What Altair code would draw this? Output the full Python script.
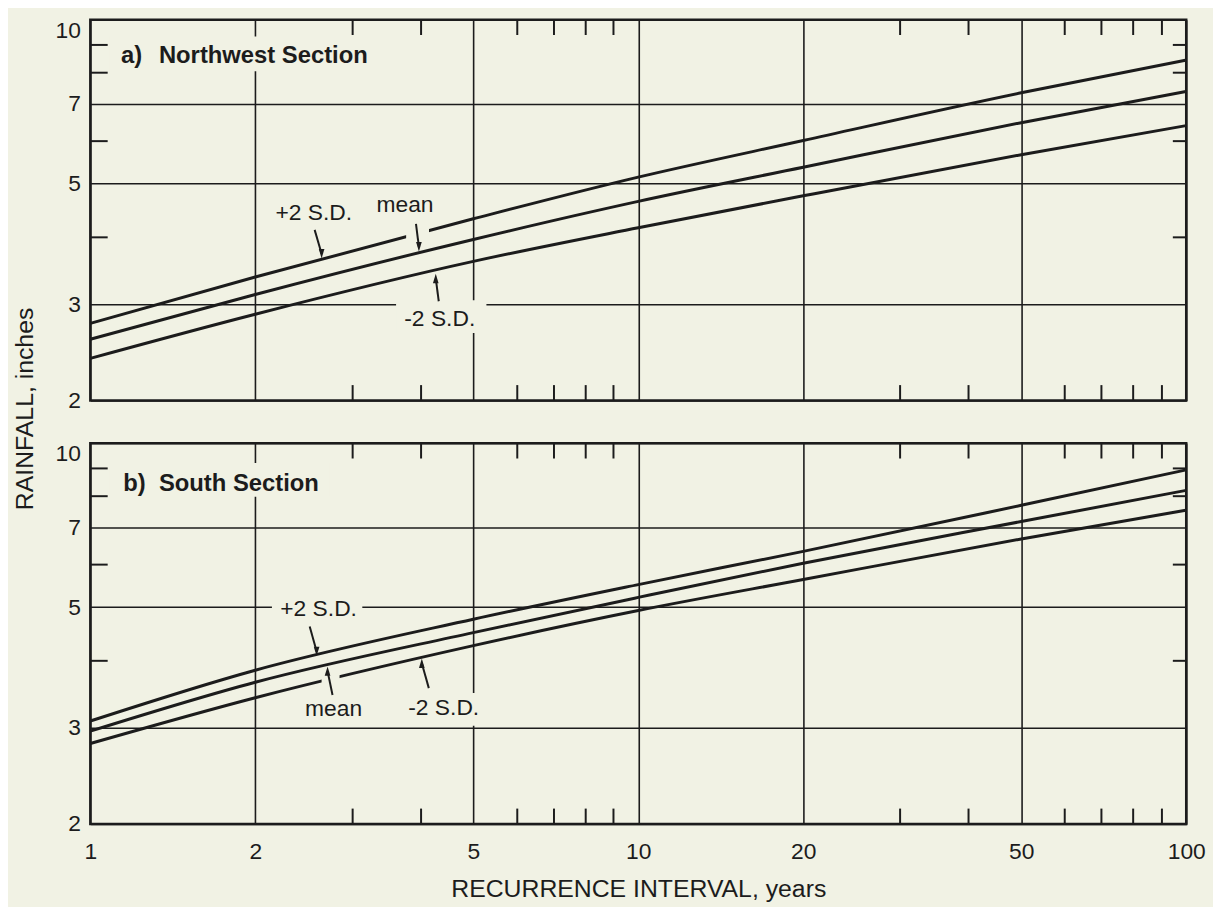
import altair as alt
import pandas as pd

INK = "#1c1c1c"
BG = "#f1f2e4"
FONT = "Liberation Sans"

# ---------------- data ----------------
recurrence = [1, 2, 5, 10, 20, 50, 100]
series_names = ["+2 S.D.", "mean", "-2 S.D."]

nw_plus2sd = [2.77, 3.37, 4.31, 5.14, 6.00, 7.34, 8.43]
nw_mean = [2.59, 3.13, 3.95, 4.64, 5.36, 6.47, 7.38]
nw_minus2sd = [2.39, 2.88, 3.60, 4.15, 4.75, 5.65, 6.39]

s_plus2sd = [3.09, 3.83, 4.75, 5.50, 6.33, 7.69, 8.93]
s_mean = [2.96, 3.64, 4.49, 5.21, 6.02, 7.18, 8.19]
s_minus2sd = [2.81, 3.41, 4.25, 4.93, 5.62, 6.67, 7.53]

x_major = [1, 2, 5, 10, 20, 50, 100]
x_minor = [3, 4, 6, 7, 8, 9, 30, 40, 60, 70, 80, 90]
y_major = [2, 3, 5, 7, 10]
y_minor = [4, 6, 8, 9]

# annotation labels (data coordinates, baseline of text)
ann_text = ["+2 S.D.", "mean", "-2 S.D."]
nw_ann_x = [2.557, 3.752, 4.342]
nw_ann_y = [4.289, 4.436, 2.739]
s_ann_x = [2.61, 2.779, 4.415]
s_ann_y = [4.825, 3.159, 3.172]

# arrows (tail -> head)
nw_arrow_x0 = [2.567, 3.929, 4.324]
nw_arrow_y0 = [4.113, 4.217, 3.042]
nw_arrow_x1 = [2.643, 3.978, 4.270]
nw_arrow_y1 = [3.719, 3.831, 3.349]
nw_arrow_dir = ["down", "down", "up"]
s_arrow_x0 = [2.514, 2.767, 4.147]
s_arrow_y0 = [4.606, 3.449, 3.551]
s_arrow_x1 = [2.588, 2.710, 4.027]
s_arrow_y1 = [4.148, 3.815, 3.944]
s_arrow_dir = ["down", "up", "up"]

# blank-out boxes (behind labels, breaks in lines)
nw_mask_x0 = [1.082, 3.77, 3.614]
nw_mask_x1 = [3.256, 4.15, 5.283]
nw_mask_y0 = [8.04, 3.90, 2.66]
nw_mask_y1 = [9.31, 4.25, 3.054]
s_mask_x0 = [1.082, 2.145, 2.643, 3.66]
s_mask_x1 = [2.733, 3.136, 2.85, 5.327]
s_mask_y0 = [7.975, 4.722, 3.55, 3.029]
s_mask_y1 = [9.196, 5.178, 3.77, 3.477]

# panel titles
nw_title = ["a)", "Northwest Section"]
s_title = ["b)", "South Section"]
nw_title_x = [1.138, 1.334]
s_title_x = [1.148, 1.334]
nw_title_y = [8.316, 8.316]
s_title_y = [8.178, 8.178]

W, H = 1105, 384
ARROW_DOWN = "M-0.6,-1L0.6,-1L0,1Z"
ARROW_UP = "M-0.6,1L0.6,1L0,-1Z"


def panel(plus, mean, minus, ax, ay, arx0, ary0, arx1, ary1, ardir,
          mx0, mx1, my0, my1, ttext, tx, ty, bottom_panel):
    df = pd.DataFrame({
        "x": recurrence * 3,
        "y": plus + mean + minus,
        "series": [s for s in series_names for _ in recurrence],
    })
    xs = alt.Scale(type="log", domain=[1, 100], nice=False)
    ys = alt.Scale(type="log", domain=[2, 10], nice=False)

    # ---- main axes (grid + labels) on an invisible layer ----
    x_axis_kw = dict(values=x_major, grid=True, gridColor=INK, gridWidth=1.6,
                     gridOpacity=1, ticks=False, domain=False, format="d",
                     labelOverlap=False, labelFlush=False)
    if bottom_panel:
        x_axis_kw.update(labels=True, labelFontSize=23, labelFont=FONT,
                         labelColor=INK, labelPadding=17,
                         title="RECURRENCE INTERVAL, years", titleFontSize=25,
                         titleFont=FONT, titleFontWeight="normal",
                         titleColor=INK, titlePadding=13)
    else:
        x_axis_kw.update(labels=False, title=None)

    y_axis_kw = dict(values=y_major, grid=True, gridColor=INK, gridWidth=1.6,
                     gridOpacity=1, ticks=False, domain=False, format="d",
                     labelOverlap=False, labelFlush=False, labelFontSize=23,
                     labelFont=FONT, labelColor=INK, labelPadding=10,
                     labelBaseline={"condition": {"test": "datum.value == 10", "value": "top"},
                                    "value": "middle"})
    if not bottom_panel:
        y_axis_kw.update(title="RAINFALL, inches", titleFontSize=25,
                         titleFont=FONT, titleFontWeight="normal",
                         titleColor=INK, titleX=-58, titleY=392,
                         titleAngle=270, titleAlign="center",
                         titleBaseline="alphabetic")
    else:
        y_axis_kw.update(title=None)

    main_axes = alt.Chart(df).mark_point(opacity=0).encode(
        x=alt.X("x:Q", scale=xs, axis=alt.Axis(**x_axis_kw)),
        y=alt.Y("y:Q", scale=ys, axis=alt.Axis(**y_axis_kw)),
    )

    # ---- data marks ----
    lines = alt.Chart(df).mark_line(color=INK, strokeWidth=3, interpolate="monotone").encode(
        x=alt.X("x:Q", scale=xs, axis=None),
        y=alt.Y("y:Q", scale=ys, axis=None),
        detail="series:N",
    )

    mdf = pd.DataFrame({"x0": mx0, "x1": mx1, "y0": my0, "y1": my1})
    masks = alt.Chart(mdf).mark_rect(color=BG, opacity=1).encode(
        x=alt.X("x0:Q", scale=xs, axis=None), x2="x1:Q",
        y=alt.Y("y0:Q", scale=ys, axis=None), y2="y1:Q",
    )

    adf = pd.DataFrame({"x0": arx0, "y0": ary0, "x1": arx1, "y1": ary1, "dir": ardir})
    shafts = alt.Chart(adf).mark_rule(color=INK, strokeWidth=2).encode(
        x=alt.X("x0:Q", scale=xs, axis=None), x2="x1:Q",
        y=alt.Y("y0:Q", scale=ys, axis=None), y2="y1:Q",
    )
    heads = alt.Chart(adf).mark_point(filled=True, color=INK, opacity=1, size=90,
                                      strokeWidth=0).encode(
        x=alt.X("x1:Q", scale=xs, axis=None),
        y=alt.Y("y1:Q", scale=ys, axis=None),
        shape=alt.Shape("dir:N", scale=alt.Scale(domain=["down", "up"],
                                                  range=[ARROW_DOWN, ARROW_UP]),
                        legend=None),
    )

    tdf = pd.DataFrame({"x": ax, "y": ay, "t": ann_text})
    texts = alt.Chart(tdf).mark_text(font=FONT, fontSize=23, color=INK,
                                     align="center", baseline="alphabetic").encode(
        x=alt.X("x:Q", scale=xs, axis=None),
        y=alt.Y("y:Q", scale=ys, axis=None),
        text="t:N",
    )

    hdf = pd.DataFrame({"x": tx, "y": ty, "t": ttext})
    heading = alt.Chart(hdf).mark_text(font=FONT, fontSize=24, fontWeight="bold",
                                       color=INK, align="left",
                                       baseline="alphabetic").encode(
        x=alt.X("x:Q", scale=xs, axis=None),
        y=alt.Y("y:Q", scale=ys, axis=None),
        text="t:N",
    )

    inner = alt.layer(lines, masks, shafts, heads, texts, heading)

    # ---- inward minor ticks on all four sides ----
    tick_kw = dict(labels=False, domain=False, grid=False, title=None,
                   tickColor=INK, tickWidth=2, tickOpacity=1)
    top_right = alt.Chart(df).mark_point(opacity=0).encode(
        x=alt.X("x:Q", scale=xs, axis=alt.Axis(orient="top", values=x_minor,
                                               offset=-15, tickSize=15, **tick_kw)),
        y=alt.Y("y:Q", scale=ys, axis=alt.Axis(orient="right", values=y_minor,
                                               offset=-14, tickSize=14, **tick_kw)),
    )
    bottom_left = alt.Chart(df).mark_point(opacity=0).encode(
        x=alt.X("x:Q", scale=xs, axis=alt.Axis(orient="bottom", values=x_minor,
                                               offset=-16, tickSize=16, **tick_kw)),
        y=alt.Y("y:Q", scale=ys, axis=alt.Axis(orient="left", values=y_minor,
                                               offset=-17, tickSize=17, **tick_kw)),
    )

    return alt.layer(main_axes, inner, top_right, bottom_left).resolve_scale(
        x="independent", y="independent"
    ).resolve_axis(x="independent", y="independent").properties(width=W, height=H)


panel_a = panel(nw_plus2sd, nw_mean, nw_minus2sd, nw_ann_x, nw_ann_y,
                nw_arrow_x0, nw_arrow_y0, nw_arrow_x1, nw_arrow_y1, nw_arrow_dir,
                nw_mask_x0, nw_mask_x1, nw_mask_y0, nw_mask_y1,
                nw_title, nw_title_x, nw_title_y, False)
panel_b = panel(s_plus2sd, s_mean, s_minus2sd, s_ann_x, s_ann_y,
                s_arrow_x0, s_arrow_y0, s_arrow_x1, s_arrow_y1, s_arrow_dir,
                s_mask_x0, s_mask_x1, s_mask_y0, s_mask_y1,
                s_title, s_title_x, s_title_y, True)

chart = alt.vconcat(panel_a, panel_b, spacing=43, bounds="flush",
                    padding={"left": 3, "top": 5, "right": 6, "bottom": 2}).configure(
    background=BG, font=FONT
).configure_view(stroke=INK, strokeWidth=2.5, fill=BG)

chart.save("out.html", embed_options={"renderer": "svg", "actions": False})
